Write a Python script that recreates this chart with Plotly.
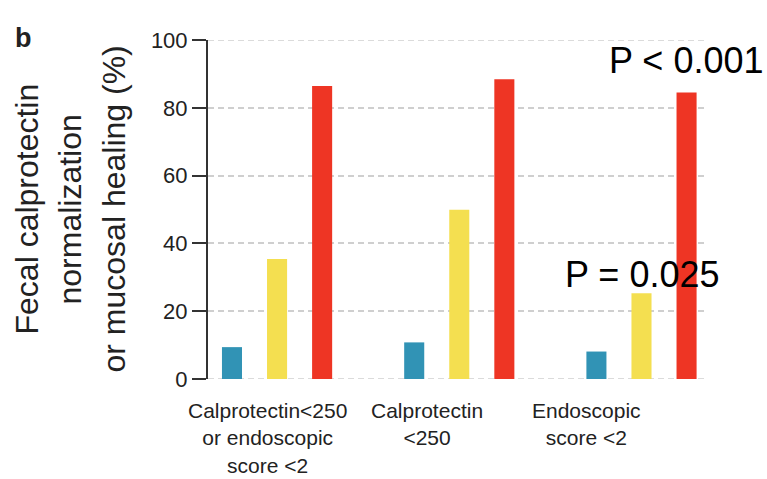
import plotly.graph_objects as go

# Outcome categories (x axis)
groups = ["Calprotectin<250 or endoscopic score <2",
          "Calprotectin <250",
          "Endoscopic score <2"]
group_label_lines = [
    "Calprotectin<250<br>or endoscopic<br>score <2",
    "Calprotectin<br><250",
    "Endoscopic<br>score <2",
]
label_shift_px = [-10, -32, -55]

# Percent of patients per treatment arm
series_names = ["Arm A", "Arm B", "Arm C"]
values_a = [9.4, 10.8, 8.1]
values_b = [35.4, 49.9, 25.3]
values_c = [86.4, 88.4, 84.5]
series_values = [values_a, values_b, values_c]
series_colors = ["#3193b5", "#f4df50", "#ee3524"]

y_ticks = [0, 20, 40, 60, 80, 100]

FONT = "Liberation Sans, Arial, Helvetica, sans-serif"
TXT = "#222222"
GRID = "#cfcfcf"
DASH = "6px,4px"

fig = go.Figure()
for name, vals, col in zip(series_names, series_values, series_colors):
    fig.add_trace(go.Bar(x=groups, y=vals, name=name, marker_color=col,
                         marker_line_width=0, showlegend=False))

fig.update_layout(
    width=767, height=479,
    margin=dict(l=208, r=59, t=40, b=100),
    paper_bgcolor="white", plot_bgcolor="white",
    barmode="group", bargap=0.258, bargroupgap=0.555,
    font=dict(family=FONT, color=TXT),
)

fig.update_xaxes(range=[-0.379, 2.365], showticklabels=False, ticks="",
                 showline=False, showgrid=False, zeroline=False)
fig.update_yaxes(range=[0, 100], tickvals=y_ticks, ticks="outside", ticklen=14,
                 tickwidth=2, tickcolor="#333333", showline=True, linewidth=2,
                 linecolor="#333333", showgrid=True, gridcolor=GRID,
                 gridwidth=1.5, griddash=DASH, zeroline=False,
                 tickfont=dict(size=22, color=TXT, family=FONT))

# Dashed gridlines at the range ends (Plotly skips those at the edges)
for yv in (y_ticks[0], y_ticks[-1]):
    fig.add_shape(type="line", xref="paper", x0=0, x1=1, yref="y", y0=yv, y1=yv,
                  line=dict(color=GRID, width=1.5, dash=DASH), layer="below")

# Category labels under each group
for g, lab, sh in zip(groups, group_label_lines, label_shift_px):
    fig.add_annotation(x=g, xref="x", y=0, yref="paper", yshift=-18,
                       yanchor="top", xshift=sh, text=lab, showarrow=False,
                       align="center", font=dict(size=21, color=TXT, family=FONT))

# Rotated y-axis title, one annotation per line
title_lines = ["Fecal calprotectin", "normalization", "or mucosal healing (%)"]
title_x_px = [26, 69, 113]
for line, px in zip(title_lines, title_x_px):
    fig.add_annotation(x=(px - 208) / 500, xref="paper", y=0.5, yref="paper",
                       text=line, textangle=-90, showarrow=False,
                       xanchor="center", yanchor="middle",
                       font=dict(size=32, color=TXT, family=FONT))

# Panel letter
fig.add_annotation(x=(13 - 208) / 500, xref="paper", y=1.0 + 2 / 339, yref="paper",
                   text="<b>b</b>", showarrow=False, xanchor="left", yanchor="middle",
                   font=dict(size=27, color=TXT, family=FONT))

# Significance labels
fig.add_annotation(x=groups[2], xref="x", xshift=45, y=94.1, yref="y",
                   text="P < 0.001", showarrow=False,
                   font=dict(size=36, color="black", family=FONT))
fig.add_annotation(x=groups[2], xref="x", xshift=1, y=30.7, yref="y",
                   text="P = 0.025", showarrow=False,
                   font=dict(size=36, color="black", family=FONT))

fig.write_html("out.html")
